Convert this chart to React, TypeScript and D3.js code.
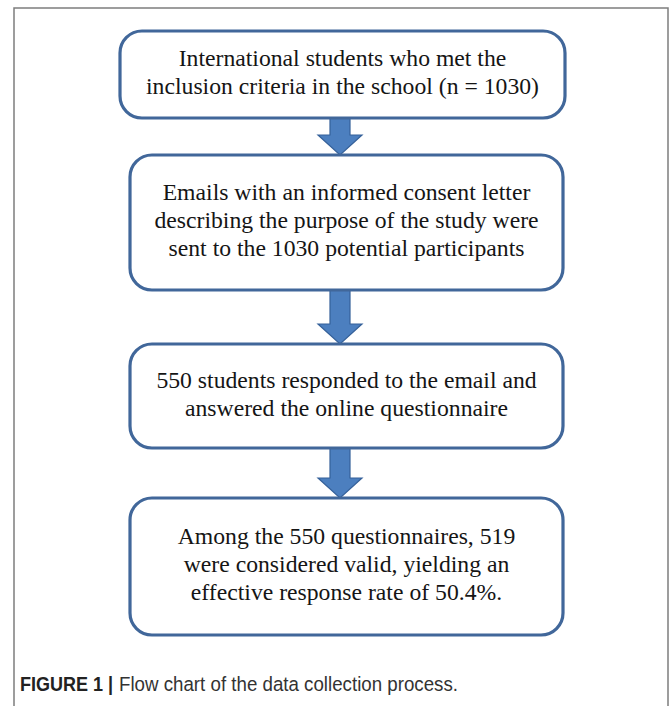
import { useEffect, useRef } from "react";
import * as d3 from "d3";

// flow steps, one entry per box, each split into its printed lines
const stepLines: string[][] = [
  ["International students who met the", "inclusion criteria in the school (n = 1030)"],
  [
    "Emails with an informed consent letter",
    "describing the purpose of the study were",
    "sent to the 1030 potential participants",
  ],
  ["550 students responded to the email and", "answered the online questionnaire"],
  [
    "Among the 550 questionnaires, 519",
    "were considered valid, yielding an",
    "effective response rate of 50.4%.",
  ],
];

const captionLabel = "FIGURE 1 |";
const captionText = "Flow chart of the data collection process.";

// layout of the boxes (top/bottom edges, px)
const boxTops = [31, 155, 344, 498];
const boxBottoms = [118, 290, 448, 635];
const boxLeft = [120, 130, 130, 130];
const boxRight = [565, 563, 563, 563];

const W = 669;
const H = 706;
const LINE_H = 28;

export default function App() {
  const svgRef = useRef<SVGSVGElement>(null);

  useEffect(() => {
    if (!svgRef.current) return;
    const svg = d3.select(svgRef.current);
    svg.selectAll("*").remove();

    // outer figure frame (open at the bottom of the crop)
    svg
      .append("rect")
      .attr("x", 14)
      .attr("y", 8)
      .attr("width", 654)
      .attr("height", 760)
      .attr("fill", "white")
      .attr("stroke", "#7d7d7d")
      .attr("stroke-width", 1.5);

    const cx = 340;

    // --- arrows between boxes ---
    const arrowG = svg.append("g");
    const line = d3.line();
    for (let i = 0; i < stepLines.length - 1; i++) {
      const y0 = boxBottoms[i];
      const y1 = boxTops[i + 1];
      const headH = 20;
      const shaftW = 10;
      const headW = 22;
      const yh = y1 - headH;
      const pts: [number, number][] = [
        [cx - shaftW, y0],
        [cx + shaftW, y0],
        [cx + shaftW, yh],
        [cx + headW, yh],
        [cx, y1],
        [cx - headW, yh],
        [cx - shaftW, yh],
      ];
      arrowG
        .append("path")
        .attr("d", line(pts) + "Z")
        .attr("fill", "#4c7fbf")
        .attr("stroke", "#35619a")
        .attr("stroke-width", 1.2)
        .attr("stroke-linejoin", "miter");
    }

    // --- boxes ---
    const boxG = svg.append("g");
    stepLines.forEach((lines, i) => {
      const x0 = boxLeft[i];
      const x1 = boxRight[i];
      const y0 = boxTops[i];
      const y1 = boxBottoms[i];
      boxG
        .append("rect")
        .attr("x", x0)
        .attr("y", y0)
        .attr("width", x1 - x0)
        .attr("height", y1 - y0)
        .attr("rx", 22)
        .attr("ry", 22)
        .attr("fill", "white")
        .attr("stroke", "#41679a")
        .attr("stroke-width", 3.2);

      const midY = (y0 + y1) / 2 - 2;
      const mx = (x0 + x1) / 2;
      const start = midY - ((lines.length - 1) * LINE_H) / 2;
      lines.forEach((t, j) => {
        boxG
          .append("text")
          .attr("x", mx)
          .attr("y", start + j * LINE_H)
          .attr("dy", "0.33em")
          .attr("text-anchor", "middle")
          .attr("font-family", "'Liberation Serif', 'Times New Roman', serif")
          .attr("font-size", 23.7)
          .attr("fill", "#151515")
          .text(t);
      });
    });

    // --- caption ---
    const capFont = "'Liberation Sans', Arial, sans-serif";
    svg
      .append("text")
      .attr("x", 20)
      .attr("y", 691)
      .attr("font-family", capFont)
      .attr("font-size", 20.5)
      .attr("font-weight", "bold")
      .attr("fill", "#222")
      .attr("textLength", 93)
      .attr("lengthAdjust", "spacingAndGlyphs")
      .text(captionLabel);
    svg
      .append("text")
      .attr("x", 119)
      .attr("y", 691)
      .attr("font-family", capFont)
      .attr("font-size", 20.5)
      .attr("fill", "#333")
      .attr("textLength", 339)
      .attr("lengthAdjust", "spacingAndGlyphs")
      .text(captionText);
  }, []);

  return (
    <svg
      ref={svgRef}
      width={W}
      height={H}
      style={{ position: "absolute", left: 0, top: 0, background: "white" }}
    />
  );
}
